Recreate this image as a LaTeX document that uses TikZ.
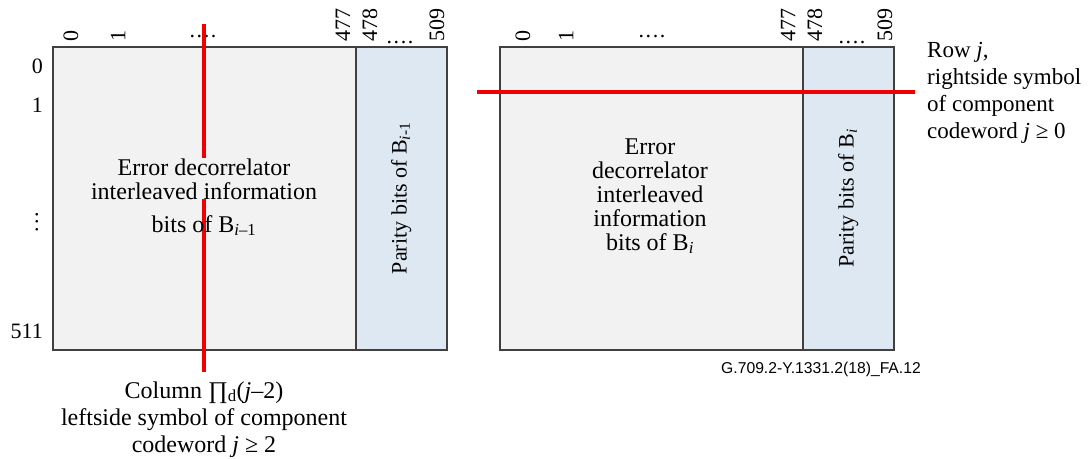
\documentclass[tikz,border=0pt]{standalone}
\usepackage{fontspec}
\setmainfont{Liberation Serif}
\newfontfamily\sansf{Liberation Sans}
\definecolor{infofill}{RGB}{242,242,242}
\definecolor{parfill}{RGB}{222,232,242}
\definecolor{edgegray}{RGB}{64,64,64}
\definecolor{redl}{RGB}{240,0,0}
\begin{document}
\begin{tikzpicture}[x=1pt,y=-1pt,
  box/.style={draw=edgegray, line width=1.6pt, inner sep=0pt, anchor=north west},
  infobox/.style={box, fill=infofill, minimum width=303pt, minimum height=303pt},
  parbox/.style={box, fill=parfill, minimum width=91pt, minimum height=303pt},
  num/.style={font=\fontsize{22}{22}\selectfont, inner sep=0pt},
  colnum/.style={num, rotate=90, anchor=west},
  dotsl/.style={num, anchor=base},
  txt/.style={font=\fontsize{24}{24}\selectfont, inner sep=0pt, align=center},
  lab/.style={font=\fontsize{23}{27}\selectfont, inner sep=0pt},
  redline/.style={draw=redl, line width=4pt}]
\useasboundingbox (0,0) rectangle (1092,458);
% rectangles
\node[infobox] (infoL) at (52,46) {};
\node[parbox] (parL) at (355,46) {};
\node[infobox] (infoR) at (499,46) {};
\node[parbox] (parR) at (802,46) {};
% column numbers left
\node[colnum] (cl0) at (71,42) {0};
\node[colnum] (cl1) at (118,42) {1};
\node[dotsl] (cld1) at (203,37) {.\kern1.6pt.\kern1.6pt.\kern1.6pt.};
\node[colnum] (cl477) at (343,42) {477};
\node[colnum] (cl478) at (370,42) {478};
\node[dotsl] (cld2) at (400,43) {.\kern1.6pt.\kern1.6pt.\kern1.6pt.};
\node[colnum] (cl509) at (437,42) {509};
% column numbers right
\node[colnum] (cr0) at (523,42) {0};
\node[colnum] (cr1) at (566,42) {1};
\node[dotsl] (crd1) at (652,37) {.\kern1.6pt.\kern1.6pt.\kern1.6pt.};
\node[colnum] (cr477) at (788,42) {477};
\node[colnum] (cr478) at (815,42) {478};
\node[dotsl] (crd2) at (852,43) {.\kern1.6pt.\kern1.6pt.\kern1.6pt.};
\node[colnum] (cr509) at (885,42) {509};
% row numbers
\node[num, anchor=base east] (r0) at (43,73) {0};
\node[num, anchor=base east] (r1) at (43,112) {1};
\node[num, rotate=90] (rdots) at (37,222) {.\kern2pt.\kern2pt.};
\node[num, anchor=base east] (r511) at (43,338) {511};
% red lines
\coordinate (vtop) at (204,24);
\coordinate (vbot) at (204,372);
\coordinate (hl) at (477,92);
\coordinate (hr) at (915,92);
\draw[redline] (vtop) -- (vbot);
\draw[redline] (hl) -- (hr);
% inner texts (anchor base = baseline of last line)
\node[txt, fill=infofill, anchor=base] (tL1) at (204,199) {Error decorrelator\\interleaved information};
\node[txt, anchor=base] (tL2) at (204,232) {bits of B\textsubscript{\textit{i}–1}};
\node[txt, anchor=base] (tR) at (650,250) {Error\\decorrelator\\interleaved\\information\\bits of B\textsubscript{\textit{i}}};
\node[num, rotate=90] (pL) at (parL.center) {Parity bits of B\textsubscript{\textit{i}-1}};
\node[num, rotate=90] (pR) at (parR.center) {Parity bits of B\textsubscript{\textit{i}}};
% outer labels
\node[lab, align=left, anchor=base west] (rowlab) at (927,138) {Row \textit{j},\\rightside symbol\\of component\\codeword \textit{j} ≥ 0};
\node[lab, align=center, anchor=base, font=\fontsize{24}{27}\selectfont] (collab) at (204,452) {Column ∏\textsubscript{d}(\textit{j}–2)\\leftside symbol of component\\codeword \textit{j} ≥ 2};
\node[inner sep=0pt, anchor=base, font=\sansf\fontsize{15.7}{16}\selectfont] (fid) at (821,373) {G.709.2-Y.1331.2(18)\_FA.12};
\end{tikzpicture}
\end{document}
